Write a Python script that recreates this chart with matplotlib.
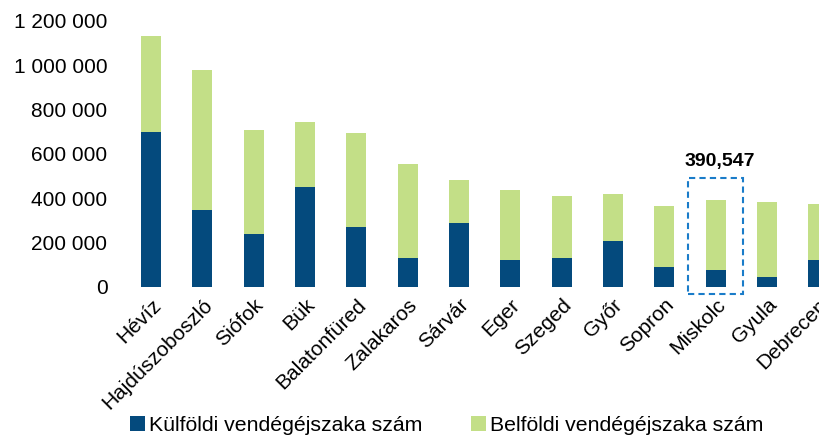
import matplotlib
matplotlib.use("Agg")
import matplotlib.pyplot as plt
from matplotlib.patches import Rectangle
from matplotlib.ticker import FuncFormatter

plt.rcParams['font.family'] = ['Liberation Sans', 'DejaVu Sans']

# telepulesek es vendegejszakak
cities = ["Hévíz", "Hajdúszoboszló", "Siófok", "Bük", "Balatonfüred", "Zalakaros",
          "Sárvár", "Eger", "Szeged", "Győr", "Sopron", "Miskolc", "Gyula", "Debrecen"]
foreign = [697000, 348000, 238000, 451000, 271000, 131000,
           289000, 123000, 132000, 209000, 90000, 78000, 45000, 122000]
domestic = [436000, 630000, 471000, 292000, 423000, 423000,
            194000, 316000, 280000, 209000, 276000, 312547, 336000, 251000]
highlight = "Miskolc"

blue = "#044A7D"
green = "#C3DF87"

fig = plt.figure(figsize=(8.2, 4.36), dpi=100)
ax = fig.add_axes([0.153, 0.342, 0.876, 0.610])

x = list(range(len(cities)))
ax.bar(x, foreign, width=0.39, color=blue, label="Külföldi vendégéjszaka szám")
ax.bar(x, domestic, width=0.39, bottom=foreign, color=green, label="Belföldi vendégéjszaka szám")

ax.set_xlim(-0.5, len(cities) - 0.5)
ax.set_ylim(0, 1200000)
ax.set_yticks(range(0, 1200001, 200000))
ax.yaxis.set_major_formatter(FuncFormatter(lambda v, p: f"{int(v):,}".replace(",", " ")))
ax.set_xticks(x)
ax.set_xticklabels(cities, rotation=45, ha="right", rotation_mode="anchor")
ax.tick_params(axis="y", length=0, pad=13, labelsize=15)
ax.tick_params(axis="x", length=0, pad=6, labelsize=15)
for s in ax.spines.values():
    s.set_visible(False)

# kiemelt oszlop
i = cities.index(highlight)
total = foreign[i] + domestic[i]
ax.add_patch(Rectangle((i - 0.535, -32000), 1.07, total + 132000, fill=False,
                       edgecolor="#1A7CC9", linestyle=(0, (3, 2)), linewidth=1.5, clip_on=False))
ax.text(i + 0.08, total + 175000, f"{total:,}", ha="center", va="center",
        fontsize=14, fontweight="bold")

fig.legend(loc="lower center", bbox_to_anchor=(0.545, -0.042), ncol=2, frameon=False,
           fontsize=15.3, handlelength=0.7, handleheight=0.7, handletextpad=0.2,
           columnspacing=2.3)

fig.savefig("out.png", dpi=100)
